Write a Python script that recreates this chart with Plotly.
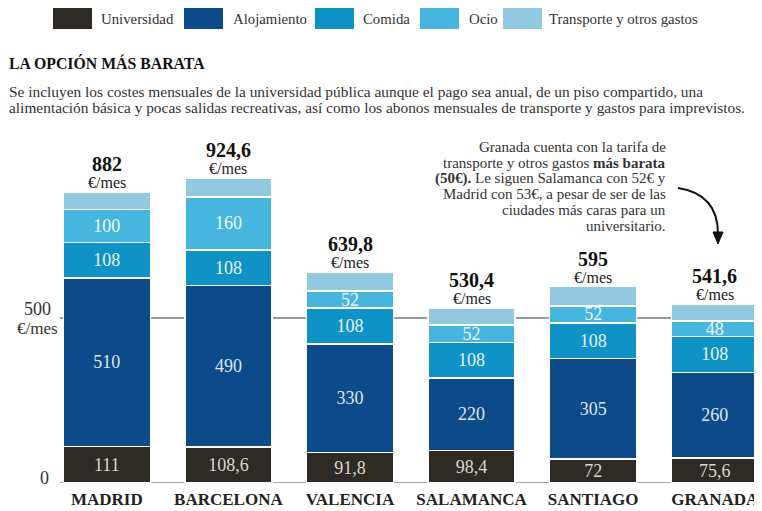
import plotly.graph_objects as go

cities = ["MADRID", "BARCELONA", "VALENCIA", "SALAMANCA", "SANTIAGO", "GRANADA"]
universidad = [111, 108.6, 91.8, 98.4, 72, 75.6]
alojamiento = [510, 490, 330, 220, 305, 260]
comida = [108, 108, 108, 108, 108, 108]
ocio = [100, 160, 52, 52, 52, 48]
transporte = [53, 58, 58, 52, 58, 50]
totals = [882, 924.6, 639.8, 530.4, 595, 541.6]

series_names = ["Universidad", "Alojamiento", "Comida", "Ocio", "Transporte y otros gastos"]
series_values = [universidad, alojamiento, comida, ocio, transporte]
colors = ["#2e2a26", "#0d4a8a", "#0f92c5", "#46b6de", "#91cae0"]
text_colors = ["#dcd6d0", "#dce8f3", "#e8f2f8", "#eef6fa", "#ffffff"]
show_text = [True, True, True, True, False]

FONT = "Liberation Serif"

def fmt(v):
    return ("%g" % v).replace(".", ",")

# page offset (body margin) and plot area in reference pixels
OFF = 8
FW, FH = 762, 511
L, T, B = 46, 140, 483          # reference pixel coords
ml = L - OFF
mt = T - OFF
mb = FH - (B - OFF)
W = FW - ml
H = B - T
SLOT = 121.6                    # pixels per category
SCALE = 0.33                    # pixels per euro

def px(x):
    return (x - L) / W

def py(y):
    return (B - y) / H

fig = go.Figure()
for name, vals, col, tcol, st in zip(series_names, series_values, colors, text_colors, show_text):
    fig.add_trace(go.Bar(
        x=cities, y=vals, name=name,
        marker=dict(color=col, line=dict(color="white", width=1.5)),
        text=[fmt(v) for v in vals] if st else None,
        textposition="inside" if st else "none",
        insidetextanchor="middle",
        textangle=0,
        textfont=dict(family=FONT, size=18, color=tcol),
        hoverinfo="skip",
        showlegend=False,
    ))

annotations = []
shapes = []

# reference lines (behind bars)
shapes.append(dict(type="line", xref="paper", yref="y", x0=px(60), x1=1, y0=500, y1=500,
                   line=dict(color="#9b9b9b", width=2), layer="below"))
shapes.append(dict(type="line", xref="paper", yref="y", x0=px(60), x1=1, y0=0, y1=0,
                   line=dict(color="#a8a8a8", width=2), layer="below"))

# totals
for c, t in zip(cities, totals):
    annotations.append(dict(x=c, y=t, xref="x", yref="y", text="€/mes", showarrow=False,
                            yanchor="bottom", yshift=-1,
                            font=dict(family=FONT, size=16, color="#222")))
    annotations.append(dict(x=c, y=t, xref="x", yref="y", text="<b>%s</b>" % fmt(t), showarrow=False,
                            yanchor="bottom", yshift=15,
                            font=dict(family=FONT, size=20, color="#111")))

# y labels
annotations.append(dict(xref="paper", yref="paper", x=px(37), y=py(309), text="500", showarrow=False,
                        xanchor="center", yanchor="middle", font=dict(family=FONT, size=18, color="#333")))
annotations.append(dict(xref="paper", yref="paper", x=px(37), y=py(328), text="€/mes", showarrow=False,
                        xanchor="center", yanchor="middle", font=dict(family=FONT, size=17, color="#333")))
annotations.append(dict(xref="paper", yref="paper", x=px(44), y=py(478), text="0", showarrow=False,
                        xanchor="center", yanchor="middle", font=dict(family=FONT, size=18, color="#333")))

# legend (manual)
sw_x = [53, 184, 315, 420, 503]
tx_x = [99, 231, 361, 467, 547]
for name, col, sx, tx in zip(series_names, colors, sw_x, tx_x):
    shapes.append(dict(type="rect", xref="paper", yref="paper", x0=px(sx), x1=px(sx + 39),
                       y0=py(29), y1=py(8), fillcolor=col, line=dict(width=0)))
    annotations.append(dict(xref="paper", yref="paper", x=px(tx), y=py(18.5), text=name,
                            showarrow=False, xanchor="left", yanchor="middle",
                            font=dict(family=FONT, size=14.8, color="#333")))

# title & subtitle
annotations.append(dict(xref="paper", yref="paper", x=px(7), y=py(63), text="<b>LA OPCIÓN MÁS BARATA</b>",
                        showarrow=False, xanchor="left", yanchor="middle",
                        font=dict(family=FONT, size=15.8, color="#111")))
sub = ["Se incluyen los costes mensuales de la universidad pública aunque el pago sea anual, de un piso compartido, una",
       "alimentación básica y pocas salidas recreativas, así como los abonos mensuales de transporte y gastos para imprevistos."]
for i, s in enumerate(sub):
    annotations.append(dict(xref="paper", yref="paper", x=px(7), y=py(92 + 16 * i), text=s,
                            showarrow=False, xanchor="left", yanchor="middle",
                            font=dict(family=FONT, size=15.4, color="#333")))

# note
note = ["Granada cuenta con la tarifa de",
        "transporte y otros gastos <b>más barata</b>",
        "<b>(50€).</b> Le siguen Salamanca con 52€ y",
        "Madrid con 53€, a pesar de ser de las",
        "ciudades más caras para un",
        "universitario."]
for i, s in enumerate(note):
    annotations.append(dict(xref="paper", yref="paper", x=px(668), y=py(147 + 15.7 * i), text=s,
                            showarrow=False, xanchor="right", yanchor="middle",
                            font=dict(family=FONT, size=15, color="#333")))

# curved arrow
def P(x, y):
    return "%.5f,%.5f" % (px(x), py(y))

shapes.append(dict(type="path", xref="paper", yref="paper",
                   path="M %s Q %s %s" % (P(678, 188), P(718, 194), P(718, 234)),
                   line=dict(color="#111", width=2)))
shapes.append(dict(type="path", xref="paper", yref="paper",
                   path="M %s L %s L %s Z" % (P(718, 244), P(713, 232), P(723, 232)),
                   fillcolor="#111", line=dict(color="#111", width=1)))

fig.update_layout(
    barmode="stack",
    bargap=0.285,
    width=FW, height=FH,
    margin=dict(l=ml, r=0, t=mt, b=mb, pad=0),
    paper_bgcolor="white",
    plot_bgcolor="white",
    showlegend=False,
    uniformtext=dict(mode="show", minsize=18),
    xaxis=dict(range=[-0.5, -0.5 + W / SLOT], showgrid=False, zeroline=False, showline=False,
               ticks="", tickfont=dict(family=FONT, size=17, color="#222", weight="bold"),
               ticklabelstandoff=4),
    yaxis=dict(range=[0, H / SCALE], showgrid=False, zeroline=False, showline=False,
               showticklabels=False, ticks=""),
    annotations=annotations,
    shapes=shapes,
    font=dict(family=FONT),
)

fig.write_html("out.html")
